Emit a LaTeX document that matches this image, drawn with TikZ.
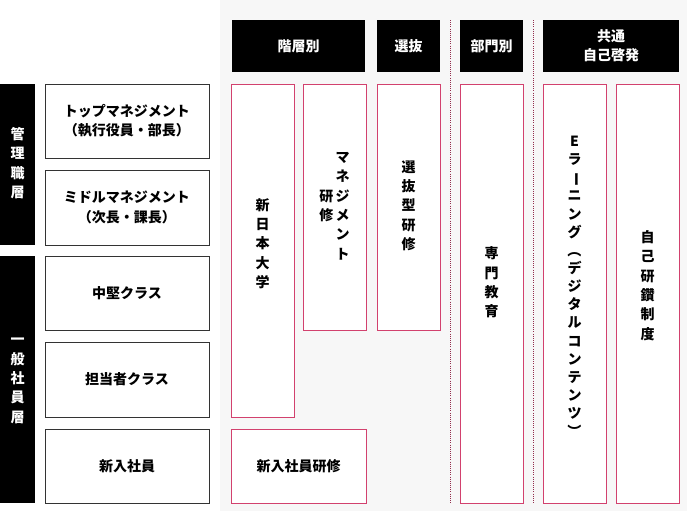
\documentclass[tikz,border=0pt]{standalone}
\usepackage{fontspec}
\setmainfont{Noto Sans CJK JP}
\usepackage{graphicx}
\definecolor{pinkline}{HTML}{D2416E}
\definecolor{panelgray}{HTML}{F7F7F7}
\newcommand\tate[1]{\begin{tabular}{@{}c@{}}#1\end{tabular}}
\newcommand\rot[1]{\rotatebox[origin=c]{-90}{#1}}

\begin{document}
\begin{tikzpicture}[x=0.75pt,y=-0.75pt,
      rowbox/.style={draw=black!80,line width=0.6pt,fill=white},
      bar/.style={fill=black},
      course/.style={draw=pinkline,line width=0.7pt,fill=white},
      lbl/.style={font=\fontsize{10.5}{14.5}\selectfont\bfseries,align=center},
      wlbl/.style={lbl,text=white}
      ]
      \useasboundingbox (0,0) rectangle (687,511);
      \fill[panelgray] (220,0) rectangle (687,511);

      % left column
      \fill[bar] (0,84) rectangle (35,245);
      \fill[bar] (0,256) rectangle (35,503);
      \node[wlbl] (mgr) at (17.5,164.5) {\tate{管\\理\\職\\層}};
      \node[wlbl] (gen) at (17.5,379.5) {\tate{一\\般\\社\\員\\層}};
      \foreach \ya/\yb/\txt [count=\i] in {84/158/{トップマネジメント\\（執行役員・部長）},
                                      170/245/{ミドルマネジメント\\（次長・課長）},
                                      256/330/{中堅クラス},
                                      342/417/{担当者クラス},
                                      429/503/{新入社員}} {
        \draw[rowbox] (45,\ya) rectangle (209,\yb);
        \node[lbl] (row\i) at (127,{(\ya+\yb)/2}) {\txt};
      }

      % headers
      \foreach \xa/\xb/\txt [count=\i] in {232/365/{階層別},377/440/{選抜},460/523/{部門別},543/679/{共通\\自己啓発}} {
        \fill[bar] (\xa,20) rectangle (\xb,72);
        \node[wlbl] (head\i) at ({(\xa+\xb)/2},46) {\txt};
      }
      \draw[pinkline!70!black,densely dotted,line width=0.6pt] (450,20) -- (450,503);
      \draw[pinkline!70!black,densely dotted,line width=0.6pt] (533,20) -- (533,503);

      % courses
      \draw[course] (231,84) rectangle (294,417);
      \node[lbl] (univ) at (262.5,245) {\tate{新\\日\\本\\大\\学}};
      \draw[course] (303,84) rectangle (366,330);
      \node[lbl] (mtrain) at (334.5,207) {\tate{研\\修}\,\tate{マ\\ネ\\ジ\\メ\\ン\\ト}};
      \draw[course] (377,84) rectangle (440,330);
      \node[lbl] (select) at (408.5,207) {\tate{選\\抜\\型\\研\\修}};
      \draw[course] (231,429) rectangle (366,503);
      \node[lbl] (newtrain) at (298.5,466) {新入社員研修};
      \draw[course] (460,84) rectangle (523,503);
      \node[lbl] (dept) at (491.5,284) {\tate{専\\門\\教\\育}};
      \draw[course] (543,84) rectangle (606,503);
      \node[lbl,font=\fontsize{10.5}{13.6}\selectfont\bfseries] (elearn) at (574.5,288)
        {\tate{E\\ラ\\\rot{ー}\\ニ\\ン\\グ\\\rot{（}\\デ\\ジ\\タ\\ル\\コ\\ン\\テ\\ン\\ツ\\\rot{）}}};
      \draw[course] (616,84) rectangle (679,503);
      \node[lbl] (self) at (647.5,287) {\tate{自\\己\\研\\鑽\\制\\度}};
    \end{tikzpicture}
\end{document}
